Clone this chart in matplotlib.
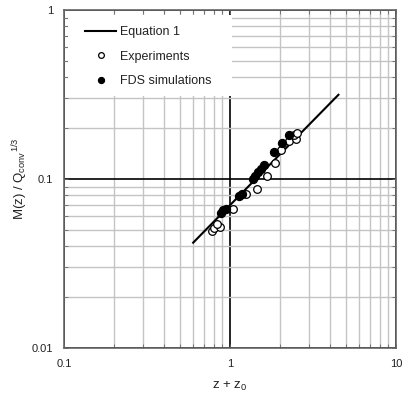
import matplotlib
matplotlib.use("Agg")
import matplotlib.pyplot as plt
from matplotlib.patches import Rectangle
from matplotlib.ticker import LogLocator, NullFormatter, FixedLocator, FixedFormatter

plt.rcParams['font.family'] = ['Liberation Sans', 'DejaVu Sans']
plt.rcParams['mathtext.fontset'] = 'custom'
plt.rcParams['mathtext.rm'] = 'Liberation Sans'
plt.rcParams['mathtext.it'] = 'Liberation Sans'

# Equation 1 line (end points)
eq_x = [0.6, 4.5]
eq_y = [0.042, 0.315]

# Experiments (open circles)
exp_x = [0.78, 0.804, 0.871, 0.835, 1.037, 1.25, 1.45, 1.66, 1.87, 2.03, 2.28, 2.50, 2.42, 2.55]
exp_y = [0.049, 0.0515, 0.052, 0.0545, 0.066, 0.082, 0.087, 0.104, 0.124, 0.148, 0.168, 0.173, 0.183, 0.187]

# FDS simulations (filled circles)
fds_x = [0.877, 0.902, 0.946, 1.14, 1.18, 1.38, 1.42, 1.48, 1.54, 1.61, 1.83, 2.07, 2.28]
fds_y = [0.063, 0.0653, 0.0668, 0.079, 0.081, 0.100, 0.104, 0.110, 0.115, 0.121, 0.145, 0.164, 0.181]

x_ticks = [0.1, 1, 10]
x_tick_labels = ['0.1', '1', '10']
y_ticks = [0.01, 0.1, 1]
y_tick_labels = ['0.01', '0.1', '1']

fig = plt.figure(figsize=(4.03, 4.01), dpi=100)
ax = fig.add_axes([64/403, 1-348/401, (396-64)/403, (348-10)/401])
ax.set_xscale('log')
ax.set_yscale('log')
ax.set_xlim(0.1, 10)
ax.set_ylim(0.01, 1)

ax.xaxis.set_major_locator(FixedLocator(x_ticks))
ax.xaxis.set_major_formatter(FixedFormatter(x_tick_labels))
ax.yaxis.set_major_locator(FixedLocator(y_ticks))
ax.yaxis.set_major_formatter(FixedFormatter(y_tick_labels))
ax.xaxis.set_minor_locator(LogLocator(base=10, subs=range(2, 10)))
ax.yaxis.set_minor_locator(LogLocator(base=10, subs=range(2, 10)))
ax.xaxis.set_minor_formatter(NullFormatter())
ax.yaxis.set_minor_formatter(NullFormatter())

ax.set_axisbelow(True)
ax.grid(which='minor', color='#c4c4c4', linewidth=1.0)
ax.grid(which='major', color='black', linewidth=1.2)
ax.tick_params(which='both', direction='in', top=True, right=True, length=3,
               width=0.6, color='#666666')
ax.tick_params(which='major', labelsize=8, pad=8, labelcolor='#222222')
for s in ax.spines.values():
    s.set_linewidth(1.2)
    s.set_color('#666666')

# white legend background
ax.add_patch(Rectangle((0.012, 0.746), 0.494, 0.239, transform=ax.transAxes,
                       facecolor='white', edgecolor='none', zorder=1.5))

ax.plot(eq_x, eq_y, color='black', linewidth=1.5, label='Equation 1', zorder=3)
ax.plot(exp_x, exp_y, linestyle='none', marker='o', markersize=5.5,
        markerfacecolor='white', markeredgecolor='black', markeredgewidth=0.9,
        label='Experiments', zorder=4)
ax.plot(fds_x, fds_y, linestyle='none', marker='o', markersize=5.8,
        markerfacecolor='black', markeredgecolor='black', markeredgewidth=0.9,
        label='FDS simulations', zorder=5)

leg = ax.legend(loc='center left', bbox_to_anchor=(0.063, 0.862), frameon=False,
                fontsize=9, handlelength=2.5, handletextpad=0.3,
                labelspacing=1.0, borderpad=0, borderaxespad=0, markerscale=0.75)
for t in leg.get_texts():
    t.set_color('#222222')

ax.set_xlabel(r'z + z$_{\rm 0}$', fontsize=9.5, labelpad=8, color='#222222')
ax.set_ylabel(r'M(z) / Q$_{\rm conv}{}^{\rm 1/3}$', fontsize=9.5, labelpad=1, color='#222222')

fig.savefig('out.png', dpi=100)
